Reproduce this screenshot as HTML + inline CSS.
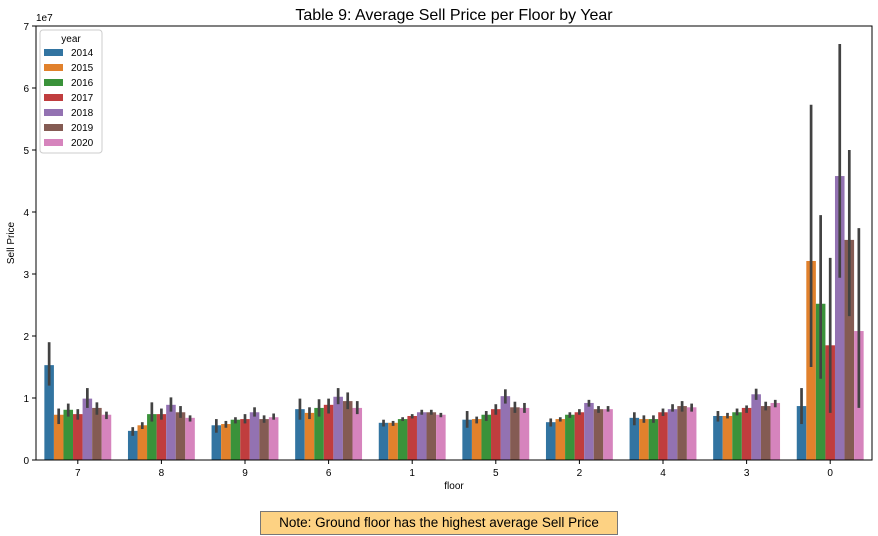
<!DOCTYPE html>
<html><head><meta charset="utf-8"><style>
body{margin:0;background:#fff;font-family:"Liberation Sans",sans-serif;}
#note{position:absolute;left:260px;top:511px;width:356px;height:22px;background:#fdd283;border:1px solid #777;font-size:13.5px;line-height:22px;text-align:center;color:#000;}
</style></head><body>
<svg id="chart" width="878" height="536" style="position:absolute;left:0;top:0" font-family="Liberation Sans, sans-serif"></svg>
<div id="note">Note: Ground floor has the highest average Sell Price</div>
<script>
const categories=["7","8","9","6","1","5","2","4","3","0"];
const years=["2014","2015","2016","2017","2018","2019","2020"];
const colors=["#3274a1","#e1812c","#3a923a","#c03d3e","#9372b2","#845b53","#d684bd"];
// values in units of 1e7, indexed [year][category]
const v2014=[1.53,0.47,0.56,0.82,0.60,0.65,0.61,0.68,0.71,0.87];
const v2015=[0.73,0.56,0.58,0.76,0.60,0.66,0.66,0.66,0.71,3.21];
const v2016=[0.81,0.74,0.65,0.84,0.66,0.73,0.73,0.66,0.77,2.52];
const v2017=[0.74,0.74,0.66,0.89,0.71,0.82,0.77,0.77,0.84,1.85];
const v2018=[0.99,0.89,0.77,1.02,0.77,1.03,0.92,0.82,1.06,4.58];
const v2019=[0.84,0.77,0.66,0.95,0.77,0.85,0.82,0.87,0.87,3.55];
const v2020=[0.73,0.68,0.69,0.84,0.73,0.84,0.82,0.85,0.92,2.08];
const lo2014=[1.20,0.39,0.44,0.65,0.54,0.52,0.54,0.56,0.62,0.58];
const hi2014=[1.90,0.53,0.66,0.99,0.65,0.79,0.67,0.77,0.79,1.16];
const lo2015=[0.58,0.50,0.52,0.66,0.55,0.59,0.62,0.60,0.67,1.50];
const hi2015=[0.83,0.61,0.63,0.85,0.63,0.70,0.69,0.72,0.76,5.73];
const lo2016=[0.70,0.62,0.59,0.70,0.63,0.63,0.68,0.60,0.72,1.31];
const hi2016=[0.91,0.93,0.69,0.98,0.69,0.79,0.77,0.72,0.83,3.95];
const lo2017=[0.65,0.65,0.59,0.75,0.67,0.73,0.73,0.71,0.76,0.76];
const hi2017=[0.82,0.83,0.74,0.99,0.74,0.90,0.82,0.83,0.88,3.26];
const lo2018=[0.84,0.78,0.70,0.90,0.73,0.91,0.86,0.78,0.97,2.94];
const hi2018=[1.16,1.01,0.85,1.16,0.81,1.14,0.97,0.90,1.15,6.71];
const lo2019=[0.73,0.68,0.60,0.82,0.73,0.76,0.76,0.78,0.80,2.32];
const hi2019=[0.93,0.87,0.72,1.09,0.81,0.94,0.87,0.95,0.94,5.00];
const lo2020=[0.66,0.62,0.65,0.74,0.69,0.76,0.78,0.78,0.85,0.84];
const hi2020=[0.78,0.72,0.75,0.95,0.76,0.92,0.87,0.91,0.97,3.74];
const yTicks=[0,1,2,3,4,5,6,7];
const vals=[v2014,v2015,v2016,v2017,v2018,v2019,v2020];
const los=[lo2014,lo2015,lo2016,lo2017,lo2018,lo2019,lo2020];
const his=[hi2014,hi2015,hi2016,hi2017,hi2018,hi2019,hi2020];

const svg=document.getElementById('chart');const NS='http://www.w3.org/2000/svg';
const L=36,R=872,T=26,B=460;
const band=(R-L)/categories.length;
const y=v=>B-(v/7)*(B-T);
const xc=i=>L+band*(i+0.5);
const bw=band*0.8/years.length;
function mk(t,a,p){const e=document.createElementNS(NS,t);for(const k in a)e.setAttribute(k,a[k]);(p||svg).appendChild(e);return e;}
// bars
for(let s=0;s<years.length;s++){for(let i=0;i<categories.length;i++){
 const x0=xc(i)-band*0.4+s*bw;
 const r=mk('rect',{x:x0,y:y(vals[s][i]),width:bw,height:B-y(vals[s][i]),fill:colors[s]});
 
 
 const l=mk('line',{x1:x0+bw/2,x2:x0+bw/2,y1:y(los[s][i]),y2:y(his[s][i]),stroke:'#424242','stroke-width':2.7});
 
 
}}
// axes frame
const fr=mk('rect',{x:L,y:T,width:R-L,height:B-T,fill:'none',stroke:'#000','stroke-width':1});

yTicks.forEach(t=>{
 mk('line',{x1:L-4,x2:L,y1:y(t),y2:y(t),stroke:'#000'});
 const tx=mk('text',{x:L-7,y:y(t)+4,'text-anchor':'end','font-size':10});tx.textContent=t;
 
});
categories.forEach((c,i)=>{
 mk('line',{x1:xc(i),x2:xc(i),y1:B,y2:B+4,stroke:'#000'});
 const tx=mk('text',{x:xc(i),y:B+16,'text-anchor':'middle','font-size':10});tx.textContent=c;
 
});
let t;
t=mk('text',{x:36,y:21,'font-size':10});t.textContent='1e7';
t=mk('text',{x:454,y:20,'text-anchor':'middle','font-size':16});t.textContent='Table 9: Average Sell Price per Floor by Year';
t=mk('text',{x:454,y:489,'text-anchor':'middle','font-size':10});t.textContent='floor';
t=mk('text',{x:14,y:243,'text-anchor':'middle','font-size':10,transform:'rotate(-90 14 243)'});t.textContent='Sell Price';
// legend
const lg=mk('g',{});
mk('rect',{x:40,y:30,width:62,height:123,rx:3,fill:'#fff','fill-opacity':0.8,stroke:'#ccc'},lg);
t=mk('text',{x:71,y:42,'text-anchor':'middle','font-size':10},lg);t.textContent='year';
years.forEach((yr,s)=>{
 const e=mk('rect',{x:44,y:49+s*15,width:19,height:7,fill:colors[s]},lg);
 
 const tx=mk('text',{x:71,y:56+s*15,'font-size':10},lg);tx.textContent=yr;
 
});
</script>
</body></html>
